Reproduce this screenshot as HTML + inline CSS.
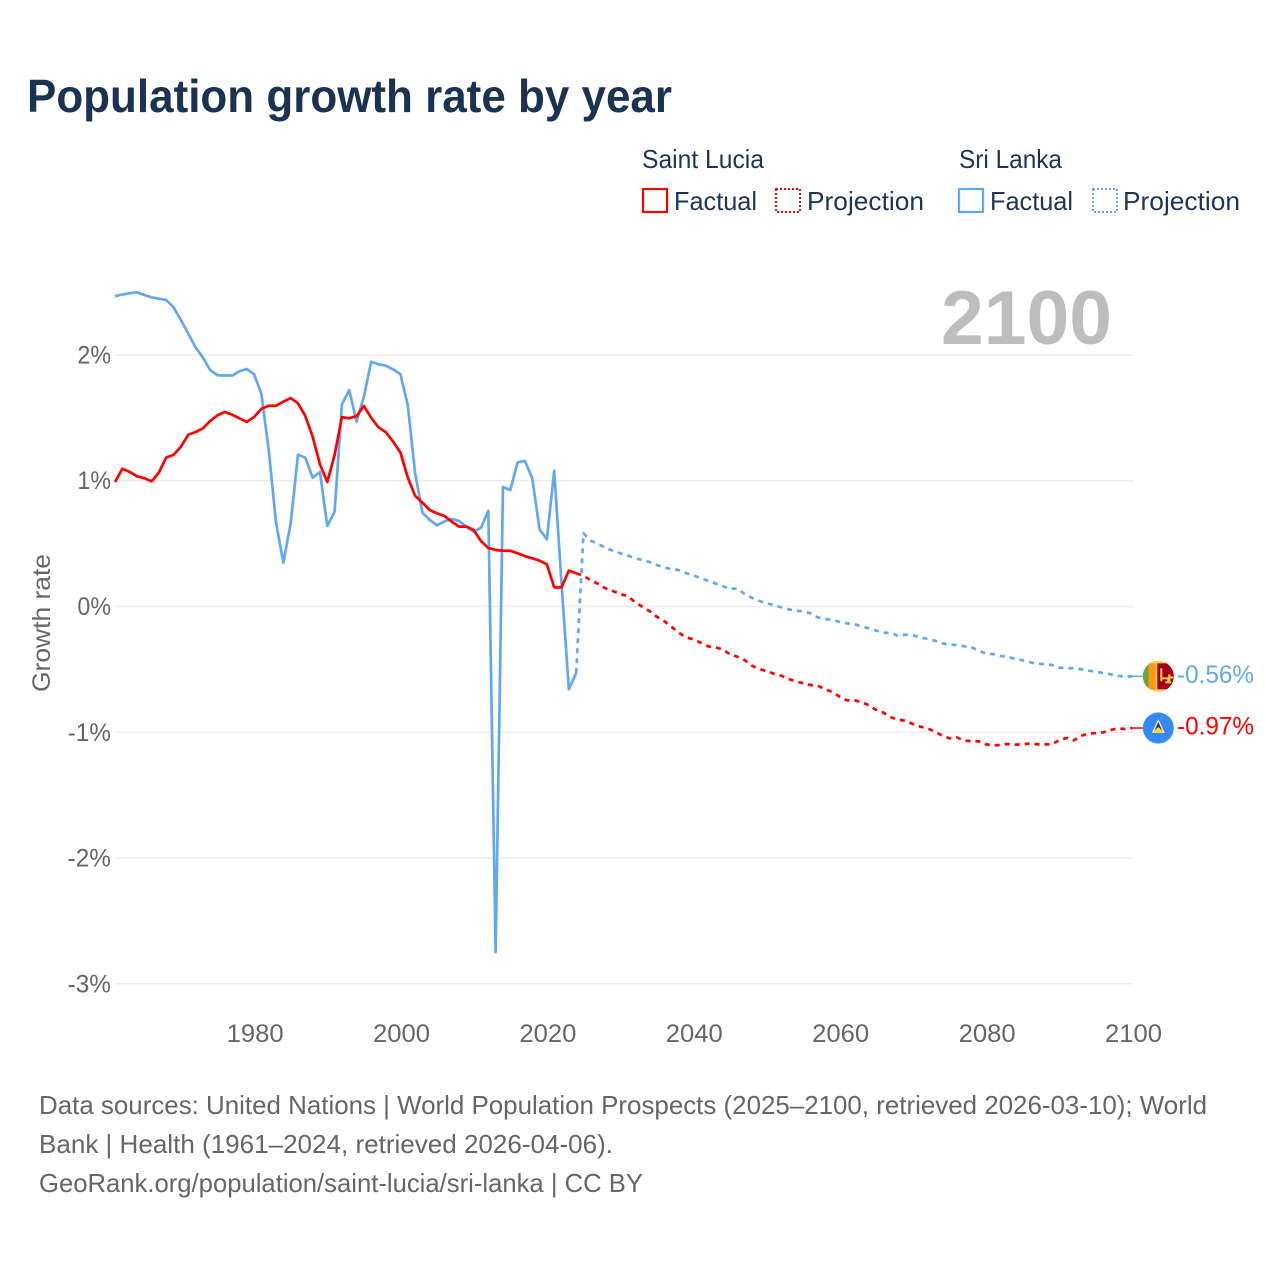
<!DOCTYPE html>
<html lang="en">
<head>
<meta charset="utf-8">
<title>Population growth rate by year</title>
<style>
html,body{margin:0;padding:0;background:#fff;width:1280px;height:1280px;overflow:hidden}
svg{display:block;font-family:"Liberation Sans",sans-serif}
</style>
</head>
<body>
<svg id="chart" width="1280" height="1280" viewBox="0 0 1280 1280" xmlns="http://www.w3.org/2000/svg">
  <rect width="1280" height="1280" fill="#fff"/>
  <text x="27" y="112" font-size="46" font-weight="700" fill="#1a3353" textLength="645" lengthAdjust="spacingAndGlyphs">Population growth rate by year</text>

  <g font-size="26" fill="#1c3557">
    <text x="642" y="168" textLength="122" lengthAdjust="spacingAndGlyphs">Saint Lucia</text>
    <text x="959" y="168" textLength="103" lengthAdjust="spacingAndGlyphs">Sri Lanka</text>
    <rect x="643" y="189" width="24" height="23" fill="none" stroke="#ff0000" stroke-width="2.2"/>
    <text x="674" y="210" textLength="83" lengthAdjust="spacingAndGlyphs">Factual</text>
    <rect x="776" y="189" width="24" height="23" fill="none" stroke="#ff0000" stroke-width="2" stroke-dasharray="2 2"/>
    <text x="807" y="210" textLength="117" lengthAdjust="spacingAndGlyphs">Projection</text>
    <rect x="959" y="189" width="24" height="23" fill="none" stroke="#63a8ee" stroke-width="2.2"/>
    <text x="990" y="210" textLength="83" lengthAdjust="spacingAndGlyphs">Factual</text>
    <rect x="1093" y="189" width="24" height="23" fill="none" stroke="#63a8ee" stroke-width="2" stroke-dasharray="2 2"/>
    <text x="1123" y="210" textLength="117" lengthAdjust="spacingAndGlyphs">Projection</text>
  </g>

  <g id="grid"></g>
  <text x="941" y="344" font-size="76" font-weight="700" fill="#bdbdbd" textLength="171" lengthAdjust="spacingAndGlyphs">2100</text>
  <g id="yTicks" font-size="25" fill="#666"></g>
  <g id="xTicks" font-size="25" fill="#666"></g>
  <text transform="translate(50 692) rotate(-90)" font-size="25" fill="#666" textLength="138" lengthAdjust="spacingAndGlyphs">Growth rate</text>
  <g id="lines"></g>

  <g id="flagLK">
    <clipPath id="clipLK"><circle cx="0" cy="0" r="15.5"/></clipPath>
    <g clip-path="url(#clipLK)">
      <rect x="-16" y="-16" width="32" height="32" fill="#ffcf4a"/>
      <rect x="-16" y="-13" width="6.5" height="26" fill="#6da544"/>
      <rect x="-9.5" y="-13" width="7" height="26" fill="#ff9811"/>
      <rect x="-1" y="-13" width="17" height="26" fill="#a2001d"/>
      <path d="M2 -8h2v9h6v-3h2v2h3v2h-3v3h1v2h-6v-2h2v-2h-5v2h-2z" fill="#ffcf4a"/>
    </g>
  </g>
  <g id="flagLC">
    <circle r="15.5" fill="#338af3"/>
    <path d="M0 -9L6.5 5H-6.5Z" fill="#f0f0f0"/>
    <path d="M0 -6L4.5 4H-4.5Z" fill="#333"/>
    <path d="M0 -1L6.5 5H-6.5Z" fill="#ffda44"/>
  </g>
  <text id="labelLK" x="1177" font-size="25" fill="#63a8ee" textLength="77" lengthAdjust="spacingAndGlyphs">-0.56%</text>
  <text id="labelLC" x="1177" font-size="25" fill="#ff0000" textLength="77" lengthAdjust="spacingAndGlyphs">-0.97%</text>

  <g font-size="26" fill="#666">
    <text x="39" y="1114" textLength="1168" lengthAdjust="spacingAndGlyphs">Data sources: United Nations | World Population Prospects (2025–2100, retrieved 2026-03-10); World</text>
    <text x="39" y="1153" textLength="574" lengthAdjust="spacingAndGlyphs">Bank | Health (1961–2024, retrieved 2026-04-06).</text>
    <text x="39" y="1192" textLength="604" lengthAdjust="spacingAndGlyphs">GeoRank.org/population/saint-lucia/sri-lanka | CC BY</text>
  </g>
</svg>
<script>
const xTickLabels = [1980, 2000, 2020, 2040, 2060, 2080, 2100];
const yTickValues = [2, 1, 0, -1, -2, -3];
const factualStartYear = 1961;
const projectionStartYear = 2024;

const saintLuciaFactual = [0.99,1.095,1.07,1.035,1.02,0.995,1.065,1.185,1.205,1.27,1.365,1.387,1.415,1.475,1.52,1.546,1.525,1.496,1.467,1.506,1.572,1.596,1.596,1.628,1.657,1.615,1.514,1.35,1.13,0.99,1.204,1.506,1.496,1.514,1.594,1.5,1.424,1.385,1.31,1.223,1.024,0.88,0.825,0.767,0.74,0.72,0.675,0.635,0.635,0.608,0.52,0.465,0.45,0.443,0.443,0.423,0.4,0.383,0.364,0.335,0.152,0.152,0.285,0.264];
const saintLuciaProjection = [0.264,0.242,0.21,0.179,0.144,0.123,0.1,0.083,0.038,-0.001,-0.036,-0.081,-0.115,-0.16,-0.208,-0.245,-0.261,-0.287,-0.316,-0.325,-0.34,-0.38,-0.399,-0.425,-0.47,-0.497,-0.513,-0.534,-0.55,-0.576,-0.595,-0.61,-0.624,-0.63,-0.656,-0.68,-0.717,-0.746,-0.746,-0.76,-0.786,-0.823,-0.844,-0.881,-0.9,-0.908,-0.934,-0.955,-0.968,-0.995,-1.027,-1.048,-1.04,-1.067,-1.069,-1.072,-1.096,-1.104,-1.101,-1.093,-1.098,-1.096,-1.088,-1.096,-1.096,-1.096,-1.061,-1.045,-1.064,-1.027,-1.011,-1.006,-1.0,-0.982,-0.968,-0.974,-0.966];
const sriLankaFactual = [2.468,2.48,2.49,2.498,2.476,2.458,2.447,2.436,2.378,2.277,2.17,2.06,1.98,1.88,1.838,1.836,1.836,1.87,1.888,1.846,1.69,1.244,0.666,0.348,0.661,1.207,1.183,1.024,1.069,0.64,0.754,1.607,1.72,1.469,1.668,1.946,1.925,1.914,1.885,1.846,1.6,1.059,0.746,0.688,0.645,0.677,0.695,0.68,0.634,0.595,0.626,0.761,-2.746,0.95,0.926,1.146,1.157,1.019,0.613,0.534,1.08,0.184,-0.658,-0.53];
const sriLankaProjection = [-0.53,0.582,0.523,0.497,0.467,0.444,0.423,0.407,0.383,0.37,0.354,0.33,0.311,0.298,0.29,0.266,0.248,0.224,0.205,0.184,0.163,0.139,0.144,0.1,0.07,0.046,0.025,0.012,-0.006,-0.022,-0.033,-0.038,-0.054,-0.086,-0.099,-0.107,-0.123,-0.134,-0.139,-0.16,-0.173,-0.192,-0.208,-0.21,-0.234,-0.224,-0.229,-0.245,-0.258,-0.272,-0.293,-0.304,-0.306,-0.316,-0.324,-0.351,-0.375,-0.378,-0.393,-0.401,-0.417,-0.428,-0.444,-0.455,-0.457,-0.465,-0.486,-0.491,-0.491,-0.499,-0.51,-0.518,-0.529,-0.539,-0.55,-0.558,-0.555];

const NS = 'http://www.w3.org/2000/svg';
const RED = '#ff0000';
const BLUE = '#63a8ee';
function xScale(year) { return 115 + (year - 1961) * 7.32; }
function yScale(value) { return 606.5 - value * 125.8; }
function make(tag, attrs) {
  const el = document.createElementNS(NS, tag);
  for (const k in attrs) el.setAttribute(k, attrs[k]);
  return el;
}
function points(values, startYear) {
  return values.map((v, i) => xScale(startYear + i).toFixed(2) + ',' + yScale(v).toFixed(2)).join(' ');
}

const grid = document.getElementById('grid');
const yTicks = document.getElementById('yTicks');
yTickValues.forEach(v => {
  const line = make('line', {x1: xScale(1961), x2: 1133.5, y1: yScale(v), y2: yScale(v), stroke: '#ececec', 'stroke-width': 1.5});
  
  
  grid.appendChild(line);
  const label = make('text', {x: 111, y: yScale(v) + 8.5, 'text-anchor': 'end'});
  
  
  label.textContent = v + '%';
  yTicks.appendChild(label);
  const natural = label.getComputedTextLength();
  label.setAttribute('textLength', (natural * 0.93 + (v < 0 ? 2 : 0)).toFixed(1));
  label.setAttribute('lengthAdjust', 'spacingAndGlyphs');
});

const xTicks = document.getElementById('xTicks');
xTickLabels.forEach(year => {
  const label = make('text', {x: xScale(year) + 1, y: 1042, 'text-anchor': 'middle', textLength: 57, lengthAdjust: 'spacingAndGlyphs'});
  
  
  label.textContent = year;
  xTicks.appendChild(label);
});

const lines = document.getElementById('lines');
function drawSeries(values, startYear, colour, dashed, name) {
  const line = make('polyline', {points: points(values, startYear), fill: 'none', stroke: colour, 'stroke-width': 2.7, 'stroke-linejoin': 'round'});
  if (dashed) line.setAttribute('stroke-dasharray', '5 5');
  
  
  lines.appendChild(line);
}
drawSeries(saintLuciaProjection, projectionStartYear, RED, true, 'saint-lucia-projection-line');
drawSeries(sriLankaProjection, projectionStartYear, BLUE, true, 'sri-lanka-projection-line');
drawSeries(sriLankaFactual, factualStartYear, BLUE, false, 'sri-lanka-factual-line');
drawSeries(saintLuciaFactual, factualStartYear, RED, false, 'saint-lucia-factual-line');

function endMarker(values, colour, flagId, labelId, name) {
  const last = values[values.length - 1];
  const y = yScale(last);
  const lead = make('line', {x1: xScale(2100), x2: 1143, y1: y, y2: y, stroke: colour, 'stroke-width': 1.5});
  
  
  lines.appendChild(lead);
  document.getElementById(flagId).setAttribute('transform', 'translate(1158.3 ' + y.toFixed(2) + ')');
  document.getElementById(labelId).setAttribute('y', (y + 6.5).toFixed(2));
}
endMarker(sriLankaProjection, BLUE, 'flagLK', 'labelLK', 'sri-lanka-leader-line');
endMarker(saintLuciaProjection, RED, 'flagLC', 'labelLC', 'saint-lucia-leader-line');
</script>
</body>
</html>
